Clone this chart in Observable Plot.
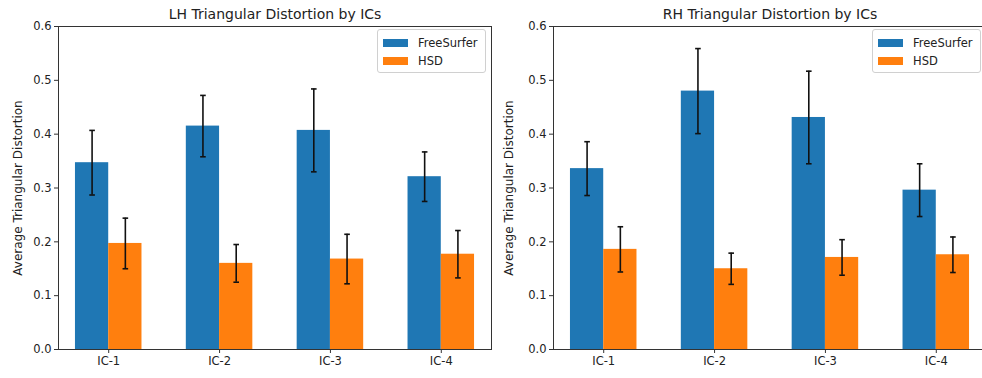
<!DOCTYPE html>
<html>
<head>
<meta charset="utf-8">
<script src="https://cdn.jsdelivr.net/npm/d3@7"></script>
<script src="https://cdn.jsdelivr.net/npm/@observablehq/plot@0.6"></script>
<style>
  html, body { margin: 0; padding: 0; background: #fff; }
  #wrap { position: relative; width: 982px; height: 378px; overflow: hidden; font-family: "DejaVu Sans", sans-serif; }
  .panel { position: absolute; top: 0; width: 500px; }
  .panel svg { max-width: none !important; display: block; }
  .legend { position: absolute; border: 1px solid #d0d0d0; border-radius: 3px; background: rgba(255,255,255,0.85); box-sizing: border-box; }
  .legend .row { position: absolute; left: 0; height: 14px; font-size: 11.5px; color: #222; }
  .legend .sw { position: absolute; width: 25px; height: 8px; }
  .legend .lab { position: absolute; white-space: nowrap; line-height: 14px; }
</style>
</head>
<body>
<div id="wrap"></div>
<script>
const categories = ["IC-1", "IC-2", "IC-3", "IC-4"];
const seriesNames = ["FreeSurfer", "HSD"];
const seriesColors = ["#1f77b4", "#ff7f0e"];
const titles = ["LH Triangular Distortion by ICs", "RH Triangular Distortion by ICs"];
const yLabel = "Average Triangular Distortion";
const yTicks = [0.0, 0.1, 0.2, 0.3, 0.4, 0.5, 0.6];

const lhFreeSurfer = [0.347, 0.415, 0.407, 0.321];
const lhFreeSurferErr = [0.060, 0.057, 0.077, 0.046];
const lhHSD = [0.197, 0.160, 0.168, 0.177];
const lhHSDErr = [0.047, 0.035, 0.046, 0.044];

const rhFreeSurfer = [0.336, 0.480, 0.431, 0.296];
const rhFreeSurferErr = [0.050, 0.079, 0.086, 0.049];
const rhHSD = [0.186, 0.150, 0.171, 0.176];
const rhHSDErr = [0.042, 0.029, 0.033, 0.033];

const barWidth = 0.3;
const xMargin = 0.153;

const capSymbol = {
  draw(ctx, size) {
    const r = Math.sqrt(size / Math.PI);
    ctx.moveTo(-r, 0);
    ctx.lineTo(r, 0);
  }
};

function makePanel(title, fs, fsErr, hsd, hsdErr, opts) {
  const rows = categories.map((c, i) => ({i, c, fs: fs[i], fsErr: fsErr[i], hsd: hsd[i], hsdErr: hsdErr[i]}));
  const errRows = rows.flatMap(d => [
    {x: d.i - barWidth / 2, lo: d.fs - d.fsErr, hi: d.fs + d.fsErr},
    {x: d.i + barWidth / 2, lo: d.hsd - d.hsdErr, hi: d.hsd + d.hsdErr}
  ]);
  const caps = errRows.flatMap(d => [{x: d.x, y: d.lo}, {x: d.x, y: d.hi}]);
  const xTickPositions = categories.map((c, i) => i);
  return Plot.plot({
    width: opts.width,
    height: 378,
    marginLeft: opts.marginLeft,
    marginRight: opts.marginRight,
    marginTop: 26,
    marginBottom: 29,
    style: {fontFamily: "DejaVu Sans, sans-serif", fontSize: "11.5px", color: "#222", background: "transparent", overflow: "visible", maxWidth: "none"},
    x: {domain: [-barWidth - xMargin, categories.length - 1 + barWidth + xMargin]},
    y: {domain: [0, 0.6]},
    marks: [
      Plot.rectY(rows, {x1: d => d.i - barWidth, x2: d => d.i, y1: 0, y2: "fs", fill: seriesColors[0]}),
      Plot.rectY(rows, {x1: d => d.i, x2: d => d.i + barWidth, y1: 0, y2: "hsd", fill: seriesColors[1]}),
      Plot.ruleX(errRows, {x: "x", y1: "lo", y2: "hi", stroke: "#111", strokeWidth: 1.6}),
      Plot.dot(caps, {x: "x", y: "y", r: 2.8, symbol: capSymbol, fill: "none", stroke: "#111", strokeWidth: 1.6}),
      Plot.frame({stroke: "#333", strokeWidth: 1}),
      Plot.axisX({ticks: xTickPositions, tickFormat: i => categories[i], tickSize: 4, tickPadding: 3, label: null, stroke: "#333", fontSize: "11.5px"}),
      Plot.axisY({ticks: yTicks, tickFormat: d3.format(".1f"), tickSize: 4, tickPadding: 3, label: null, stroke: "#333", fontSize: "11.5px"}),
      Plot.axisY({ticks: [], tickSize: 0, label: yLabel, labelAnchor: "center", labelArrow: "none", labelOffset: opts.labelOffset, fontSize: "12px"}),
      Plot.text([title], {frameAnchor: "top", dy: -12, lineAnchor: "middle", fontSize: 14, fill: "#222"})
    ]
  });
}

const wrap = document.getElementById("wrap");

function addPanel(svg, left) {
  const d = document.createElement("div");
  d.className = "panel";
  d.style.left = left + "px";
  d.appendChild(svg);
  wrap.appendChild(d);
}

function addLegend(left, top, width, height) {
  const lg = document.createElement("div");
  lg.className = "legend";
  lg.style.left = left + "px";
  lg.style.top = top + "px";
  lg.style.width = width + "px";
  lg.style.height = height + "px";
  seriesNames.forEach((name, k) => {
    const row = document.createElement("div");
    row.className = "row";
    row.style.top = (6 + k * 18) + "px";
    row.style.width = width + "px";
    const sw = document.createElement("div");
    sw.className = "sw";
    sw.style.left = "5px";
    sw.style.top = "3px";
    sw.style.background = seriesColors[k];
    const lab = document.createElement("div");
    lab.className = "lab";
    lab.style.left = "40px";
    lab.style.top = "0px";
    lab.textContent = name;
    row.appendChild(sw);
    row.appendChild(lab);
    lg.appendChild(row);
  });
  wrap.appendChild(lg);
}

addPanel(makePanel(titles[0], lhFreeSurfer, lhFreeSurferErr, lhHSD, lhHSDErr,
  {width: 492, marginLeft: 58, marginRight: 1, labelOffset: 45}), 0);
addPanel(makePanel(titles[1], rhFreeSurfer, rhFreeSurferErr, rhHSD, rhHSDErr,
  {width: 496, marginLeft: 62, marginRight: 1, labelOffset: 49}), 491);

addLegend(377, 29, 109, 44);
addLegend(872, 29, 109, 44);
</script>
</body>
</html>
